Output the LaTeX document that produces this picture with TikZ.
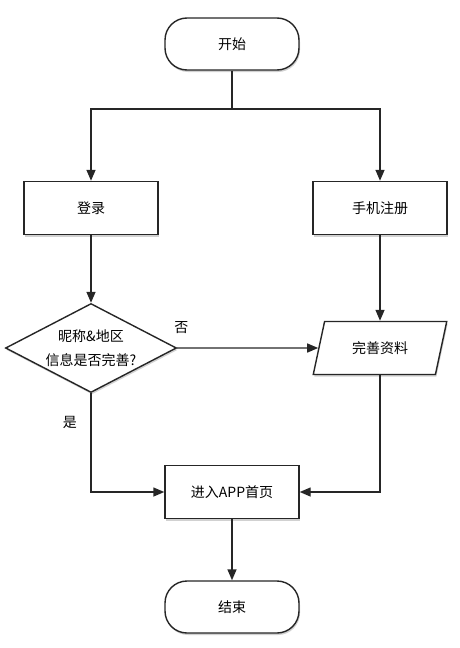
\documentclass[tikz,border=0pt]{standalone}
\usepackage{fontspec}
\setmainfont{Noto Sans CJK SC}
\usepackage{xcolor}
\definecolor{cLine}{HTML}{262626}
\usepackage{tikz}
\usetikzlibrary{positioning,arrows.meta,shapes.geometric,shadows}
\tikzset{
  node-base/.style={draw=cLine,line width=1.4pt,fill=white,align=center,
    font=\fontsize{14}{24}\selectfont,
    drop shadow={shadow xshift=1pt,shadow yshift=-2pt,opacity=.18,fill=black}},
  node-term/.style={node-base,rounded corners=22pt,
    minimum width=134pt,minimum height=52pt},
  node-box/.style={node-base,minimum width=134pt,minimum height=53pt},
  node-check/.style={node-base,diamond,aspect=1.92,inner sep=0pt,
    minimum width=171pt,minimum height=89pt},
  node-io/.style={node-base,trapezium,trapezium left angle=72,
    trapezium right angle=108,trapezium stretches=true,
    minimum width=134pt,minimum height=53pt},
  arrow/.style={-{Triangle[length=11pt,width=9pt]},line width=1.4pt,draw=cLine},
  line/.style={line width=1.4pt,draw=cLine},
  tag/.style={font=\fontsize{14}{16}\selectfont},
}

\begin{document}
\begin{tikzpicture}[x=1pt,y=-1pt]
  \useasboundingbox (0,0) rectangle (460,648);
  \node[node-term] (start) at (232,44) {开始};
  \coordinate (split) at (232,109);
  \node[node-box] (login) at (91,208) {登录};
  \node[node-box] (register) at (380,208) {手机注册};
  \node[node-check] (check) at (91,348) {昵称\&地区\\信息是否完善?};
  \node[node-io] (info) at (380,348) {完善资料};
  \node[node-box] (home) at (232,492) {进入APP首页};
  \node[node-term] (finish) at (232,607) {结束};
  \draw[line] (start.south) -- (split);
  \draw[arrow] (split) -| (login.north);
  \draw[arrow] (split) -| (register.north);
  \draw[arrow] (login) -- (check);
  \draw[arrow] (register) -- (info);
  \draw[arrow] (check.east) -- node[tag,pos=0.03,above=10pt]{否} (info.west);
  \draw[arrow] (check.south) |- node[tag,pos=0.15,left=10pt]{是} (home.west);
  \draw[arrow] (info.south) |- (home.east);
  \draw[arrow] (home) -- (finish);
\end{tikzpicture}
\end{document}
